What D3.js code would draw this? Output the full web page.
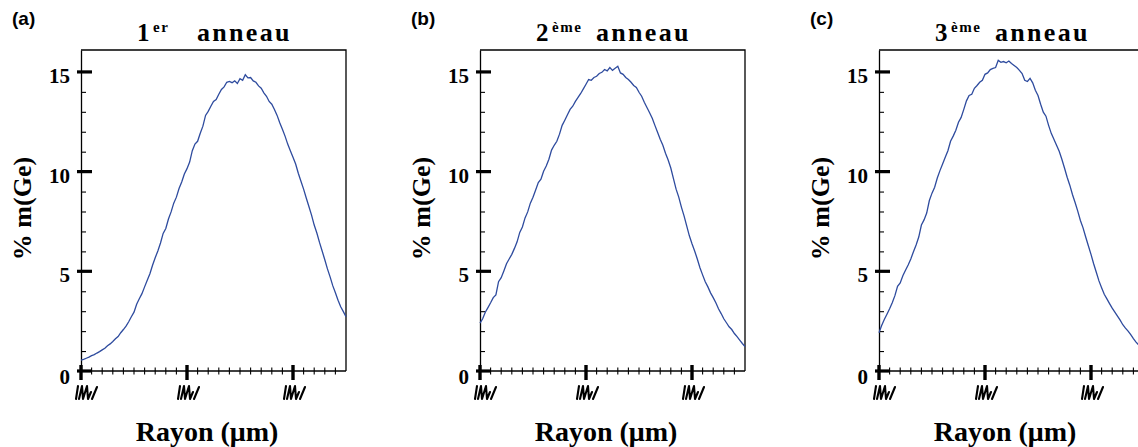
<!DOCTYPE html>
<html>
<head>
<meta charset="utf-8">
<script src="https://cdn.jsdelivr.net/npm/d3@7"></script>
<style>
  html, body { margin: 0; padding: 0; background: #fff; }
  svg { display: block; }
</style>
</head>
<body>
<svg id="chart" width="1138" height="447"></svg>
<script>
// Ge mass fraction profiles across the radius of three rings
const panelLetters = ["(a)", "(b)", "(c)"];
const ringNumbers = ["1", "2", "3"];
const ringSuffixes = ["er", "ème", "ème"];
const ringWord = "anneau";
const yTitle = "% m(Ge)";
const xTitle = "Rayon (μm)";

const yMajorTicks = [0, 5, 10, 15];
const yMinorTicks = [1, 2, 3, 4, 6, 7, 8, 9, 11, 12, 13, 14];
const xMajorTicks = [0, 10, 20];
const xMinorTicks = [1, 2, 3, 4, 5, 6, 7, 8, 9, 11, 12, 13, 14, 15, 16, 17, 18, 19, 21, 22, 23, 24];

// profile samples, one every 0.25 radius unit from 0 to 25
const sampleStep = 0.25;
const ring1 = [0.55,0.58,0.64,0.70,0.77,0.82,0.90,0.97,1.06,1.14,
  1.27,1.36,1.48,1.62,1.73,1.92,2.08,2.25,2.47,2.72,
  2.95,3.35,3.62,3.88,4.22,4.55,4.88,5.30,5.68,6.02,
  6.42,6.90,7.15,7.62,7.98,8.42,8.72,9.15,9.48,9.88,
  10.15,10.48,11.05,11.38,11.52,11.92,12.28,12.82,13.02,13.28,
  13.52,13.62,13.88,14.12,14.25,14.48,14.52,14.46,14.55,14.42,
  14.66,14.58,14.86,14.70,14.72,14.55,14.48,14.30,14.18,13.95,
  13.78,13.52,13.38,13.12,12.82,12.45,12.12,11.78,11.38,11.05,
  10.72,10.38,9.92,9.52,9.12,8.68,8.25,7.82,7.32,6.92,
  6.45,6.02,5.58,5.12,4.72,4.28,3.92,3.55,3.22,2.98,
  2.72];
const ring2 = [2.40,2.62,2.95,3.18,3.42,3.68,3.82,4.48,4.68,5.02,
  5.38,5.62,5.85,6.15,6.48,6.95,7.22,7.68,7.98,8.42,
  8.72,9.08,9.45,9.62,10.02,10.28,10.62,11.08,11.32,11.52,
  11.88,12.32,12.58,12.85,13.12,13.28,13.52,13.72,13.92,14.15,
  14.38,14.62,14.58,14.72,14.78,14.92,14.98,15.12,15.05,15.22,
  15.08,15.18,15.28,14.95,14.88,14.72,14.62,14.48,14.32,14.22,
  13.98,13.78,13.48,13.22,12.95,12.68,12.32,11.98,11.62,11.32,
  10.92,10.58,10.18,9.65,9.12,8.72,8.22,7.78,7.28,6.78,
  6.38,6.02,5.62,5.18,4.82,4.48,4.22,3.92,3.68,3.42,
  3.12,2.88,2.62,2.42,2.22,2.08,1.88,1.72,1.55,1.38,
  1.22];
const ring3 = [1.92,2.28,2.58,2.85,3.12,3.42,3.78,4.25,4.42,4.78,
  5.05,5.32,5.62,5.98,6.32,6.72,7.32,7.58,7.92,8.55,
  8.92,9.22,9.68,10.05,10.38,10.72,11.05,11.52,11.78,12.08,
  12.48,12.72,13.12,13.55,13.82,13.88,14.18,14.32,14.48,14.58,
  14.88,14.95,15.12,15.18,15.22,15.58,15.48,15.52,15.46,15.55,
  15.42,15.32,15.22,15.08,14.92,14.58,14.52,14.68,14.45,14.08,
  13.82,13.38,12.98,12.78,12.32,11.92,11.62,11.32,11.02,10.62,
  10.18,9.72,9.32,8.85,8.45,8.02,7.55,7.18,6.72,6.28,
  5.85,5.38,4.95,4.52,4.18,3.85,3.62,3.38,3.15,2.95,
  2.75,2.55,2.32,2.15,2.00,1.82,1.62,1.45,1.30,1.18,
  1.05];
const profiles = [ring1, ring2, ring3];

const xDomain = [0, 25];
const yDomain = [0, 16.1];

const svg = d3.select("#chart");
const serif = "'Liberation Serif', 'Times New Roman', serif";
const sans = "'Liberation Sans', Arial, sans-serif";
const lineColor = "#2e4b9e";

const panelStride = 399;
const plotLeft = 81, plotWidth = 265, plotTop = 50, plotBottom = 371;

profiles.forEach((values, p) => {
  const L = plotLeft + p * panelStride;
  const x = d3.scaleLinear().domain(xDomain).range([L, L + plotWidth]);
  const y = d3.scaleLinear().domain(yDomain).range([plotBottom, plotTop]);
  const g = svg.append("g");

  // panel letter
  g.append("text")
    .attr("x", 12 + p * panelStride).attr("y", 25)
    .attr("font-family", sans).attr("font-weight", "bold").attr("font-size", 19)
    .text(panelLetters[p]);

  // title: ring number, superscript suffix, word
  const t = g.append("text")
    .attr("font-family", serif).attr("font-weight", "bold").attr("fill", "#000");
  t.append("tspan").attr("x", L + 56).attr("y", 41).attr("font-size", 25).text(ringNumbers[p]);
  t.append("tspan").attr("x", L + 72).attr("y", 32).attr("font-size", 15)
    .attr("letter-spacing", 1.5).text(ringSuffixes[p]);
  t.append("tspan").attr("x", L + 116).attr("y", 41).attr("font-size", 26)
    .attr("letter-spacing", 2.3).text(ringWord);

  // frame: top and right edges
  g.append("path")
    .attr("d", `M${x(xDomain[0])},${y(yDomain[1])}H${x(xDomain[1])}V${y(0)}`)
    .attr("fill", "none").attr("stroke", "#000").attr("stroke-width", 1.3);

  // y axis: line, minor ticks pointing inward
  const yMinorAxis = d3.axisRight(y).tickValues(yMinorTicks).tickSize(5).tickSizeOuter(0).tickFormat("");
  const ya = g.append("g").attr("transform", `translate(${L},0)`).call(yMinorAxis);
  ya.select(".domain").attr("stroke-width", 1.3);
  ya.selectAll(".tick line").attr("stroke-width", 1.1);

  // y tick labels
  const yLabelAxis = d3.axisLeft(y).tickValues(yMajorTicks).tickSize(0).tickPadding(11).tickFormat(d3.format("d"));
  const yl = g.append("g").attr("transform", `translate(${L},0)`).call(yLabelAxis);
  yl.select(".domain").remove();
  yl.selectAll("text")
    .attr("font-family", serif).attr("font-weight", "bold").attr("font-size", 21)
    .attr("fill", "#000").attr("dy", d => d === 0 ? "0.6em" : "0.5em");

  // y major ticks
  g.selectAll(".ymaj").data(yMajorTicks).join("line")
    .attr("x1", L - 4).attr("x2", L + 11)
    .attr("y1", d => y(d)).attr("y2", d => y(d))
    .attr("stroke", "#000").attr("stroke-width", 3.2);

  // x axis line and minor ticks crossing it
  g.append("line")
    .attr("x1", x(xDomain[0])).attr("x2", x(xDomain[1]))
    .attr("y1", y(0)).attr("y2", y(0))
    .attr("stroke", "#000").attr("stroke-width", 1.3);
  g.selectAll(".xmin").data(xMinorTicks).join("line")
    .attr("x1", d => x(d)).attr("x2", d => x(d))
    .attr("y1", y(0) - 3.5).attr("y2", y(0) + 3.5)
    .attr("stroke", "#000").attr("stroke-width", 1.1);
  g.selectAll(".xmaj").data(xMajorTicks).join("line")
    .attr("x1", d => x(d)).attr("x2", d => x(d))
    .attr("y1", y(0) - 6).attr("y2", y(0) + 9)
    .attr("stroke", "#000").attr("stroke-width", 3.4);

  // scribbled marks under the major x ticks
  g.selectAll(".xlab").data(xMajorTicks).join("path")
    .attr("transform", d => `translate(${x(d) + (d === 0 ? 5 : 1)},${y(0) + 22})`)
    .attr("d", "M-8,-7 L-10,6 M-7,6 L-4,-7 L-3,6 L1,-7 L2,6 L5,-1 M6,6 L11,-6")
    .attr("fill", "none").attr("stroke", "#000").attr("stroke-width", 2.1)
    .attr("stroke-linejoin", "round").attr("stroke-linecap", "round");

  // axis titles
  g.append("text")
    .attr("transform", `translate(${L - 50},${(plotTop + plotBottom) / 2 - 2}) rotate(-90)`)
    .attr("text-anchor", "middle")
    .attr("font-family", serif).attr("font-weight", "bold").attr("font-size", 26)
    .text(yTitle);
  g.append("text")
    .attr("x", L + 126).attr("y", 441)
    .attr("text-anchor", "middle")
    .attr("font-family", serif).attr("font-weight", "bold").attr("font-size", 28)
    .text(xTitle);

  // profile curve
  const line = d3.line()
    .x((d, i) => x(i * sampleStep))
    .y(d => y(d))
    .curve(d3.curveLinear);
  g.append("path")
    .datum(values)
    .attr("d", line)
    .attr("fill", "none").attr("stroke", lineColor).attr("stroke-width", 1.3);
});
</script>
</body>
</html>
